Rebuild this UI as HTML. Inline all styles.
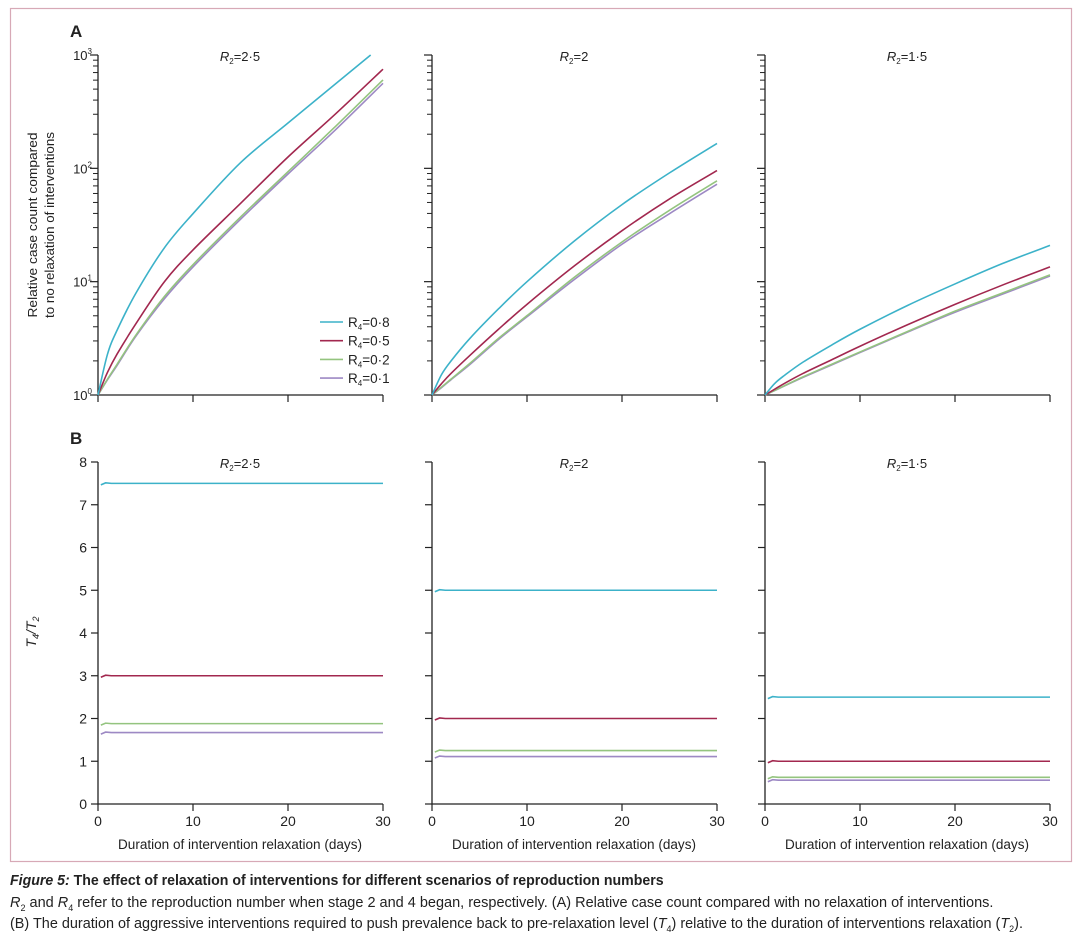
<!DOCTYPE html>
<html><head><meta charset="utf-8"><style>
body{margin:0;background:#fff;width:1080px;height:939px;overflow:hidden;font-family:"Liberation Sans",sans-serif}
svg text{font-family:"Liberation Sans",sans-serif;fill:#222}
.cap{position:absolute;left:10px;font-size:14.5px;color:#222;font-family:"Liberation Sans",sans-serif;white-space:nowrap;transform-origin:0 0}
</style></head><body>
<svg id="fig" width="1080" height="939" style="position:absolute;left:0;top:0">
<rect x="10.5" y="8.5" width="1061" height="853" fill="none" stroke="#d7a9b6" stroke-width="1.2"/>
<text x="70" y="37" font-size="17" font-weight="bold">A</text>
<text x="70" y="444" font-size="17" font-weight="bold">B</text>
<text transform="translate(37,225) rotate(-90)" text-anchor="middle" font-size="13" textLength="185" lengthAdjust="spacingAndGlyphs">Relative case count compared</text>
<text transform="translate(54,225) rotate(-90)" text-anchor="middle" font-size="13" textLength="186" lengthAdjust="spacingAndGlyphs">to no relaxation of interventions</text>
<text transform="translate(36,632) rotate(-90)" text-anchor="middle" font-size="14" font-style="italic">T<tspan font-size="9" dy="3">4</tspan><tspan dy="-3">/T</tspan><tspan font-size="9" dy="3">2</tspan></text>
<g id="plots"></g>
</svg>
<div class="cap" style="top:873px;font-weight:bold;transform:scaleX(0.975)"><i>Figure 5:</i> The effect of relaxation of interventions for different scenarios of reproduction numbers</div>
<div class="cap" style="top:895px"><i>R</i><sub style="font-size:9px">2</sub> and <i>R</i><sub style="font-size:9px">4</sub> refer to the reproduction number when stage 2 and 4 began, respectively. (A) Relative case count compared with no relaxation of interventions.</div>
<div class="cap" style="top:916px;transform:scaleX(0.995)">(B) The duration of aggressive interventions required to push prevalence back to pre-relaxation level (<i>T</i><sub style="font-size:9px">4</sub>) relative to the duration of interventions relaxation (<i>T</i><sub style="font-size:9px">2</sub>).</div>
<script>
const panelTitles = ["2·5", "2", "1·5"];
const seriesNames = ["0·8", "0·5", "0·2", "0·1"];
const seriesColors = ["#3cb2c9", "#a2284f", "#94c47f", "#9d89c4"];
const daysA = [0, 1, 2, 4, 7, 10, 15, 20, 25, 30];
// log10 relative case counts, panel A, [panel][series][day]
const logA = [
 [[0,0.36,0.57,0.9,1.3,1.6,2.05,2.4,2.745,3.09],
  [0,0.2,0.36,0.63,1.0,1.28,1.69,2.1,2.48,2.875],
  [0,0.14,0.27,0.53,0.87,1.15,1.57,1.97,2.37,2.78],
  [0,0.135,0.26,0.52,0.85,1.13,1.55,1.95,2.34,2.75]],
 [[0,0.18,0.3,0.5,0.76,1.0,1.36,1.68,1.96,2.22],
  [0,0.1,0.19,0.35,0.58,0.8,1.14,1.45,1.73,1.98],
  [0,0.07,0.14,0.28,0.5,0.7,1.04,1.35,1.63,1.89],
  [0,0.065,0.135,0.27,0.49,0.69,1.02,1.33,1.6,1.86]],
 [[0,0.1,0.17,0.29,0.44,0.58,0.79,0.98,1.16,1.32],
  [0,0.05,0.1,0.19,0.31,0.43,0.62,0.8,0.97,1.13],
  [0,0.04,0.08,0.16,0.27,0.38,0.56,0.74,0.9,1.06],
  [0,0.038,0.078,0.155,0.265,0.375,0.555,0.73,0.89,1.05]]
];
const cyanEndDay = [28.7, 30, 30];
const ratioB = [[7.5,3.0,1.88,1.67],[5.0,2.0,1.25,1.11],[2.5,1.0,0.625,0.556]];
const xTicks = [0,10,20,30];
const yTicksB = [0,1,2,3,4,5,6,7,8];
const yTicksA = [0,1,2,3];

const NS="http://www.w3.org/2000/svg";
const root=document.getElementById('plots');
function mk(tag,attrs,parent){const e=document.createElementNS(NS,tag);for(const k in attrs)e.setAttribute(k,attrs[k]);(parent||root).appendChild(e);return e;}
const px0=[98,432,765], pw=285;
const xS=(p,d)=>px0[p]+d/30*pw;
const yA=v=>395-v/3*340;
const yB=v=>804-v/8*342;

for(let p=0;p<3;p++){
  const g=mk('g',{});
  
  
  const x0=px0[p];
  let ax=mk('path',{d:`M${x0},55V395H${x0+pw}`,stroke:'#222','stroke-width':1.3,fill:'none'},g);
  
  for(let d=0;d<3;d++){for(let m=2;m<=9;m++){const y=yA(d+Math.log10(m));
    const t=mk('line',{x1:x0-5,x2:x0,y1:y,y2:y,stroke:'#222','stroke-width':1},g);
    }}
  yTicksA.forEach(v=>{const y=yA(v);
    const t=mk('line',{x1:x0-8,x2:x0,y1:y,y2:y,stroke:'#222','stroke-width':1.2},g);
    
    if(p===0){const tx=mk('text',{x:x0-6,y:y+5,'text-anchor':'end','font-size':13},g);
      
      tx.innerHTML='10<tspan font-size="8" dy="-6">'+v+'</tspan>';}});
  xTicks.forEach(v=>{const x=xS(p,v);
    const t=mk('line',{x1:x,x2:x,y1:395,y2:402,stroke:'#222','stroke-width':1.2},g);
    });
  let tt=mk('text',{x:x0+142,y:61,'text-anchor':'middle','font-size':13},g);
  
  tt.innerHTML='<tspan font-style="italic">R</tspan><tspan font-size="8" dy="3">2</tspan><tspan dy="-3">='+panelTitles[p]+'</tspan>';
  for(let s=3;s>=0;s--){
    let pts=[];const vals=logA[p][s];
    for(let i=0;i<daysA.length;i++){
      let d=daysA[i],v=vals[i];
      if(s===0&&d>cyanEndDay[p]){const dp=daysA[i-1],vp=vals[i-1];const f=(cyanEndDay[p]-dp)/(d-dp);d=cyanEndDay[p];v=vp+(v-vp)*f;}
      pts.push([xS(p,d),yA(v)]);
    }
    let dstr='M'+pts[0][0]+','+pts[0][1];
    for(let i=0;i<pts.length-1;i++){const a=pts[i-1]||pts[i],b=pts[i],c=pts[i+1],e=pts[i+2]||c;
      dstr+=` C${b[0]+(c[0]-a[0])/6},${b[1]+(c[1]-a[1])/6} ${c[0]-(e[0]-b[0])/6},${c[1]-(e[1]-b[1])/6} ${c[0]},${c[1]}`;}
    const l=mk('path',{d:dstr,stroke:seriesColors[s],'stroke-width':1.6,fill:'none'},g);
    
  }
  const gb=mk('g',{});
  
  
  ax=mk('path',{d:`M${x0},462V804H${x0+pw}`,stroke:'#222','stroke-width':1.3,fill:'none'},gb);
  
  yTicksB.forEach(v=>{const y=yB(v);
    const t=mk('line',{x1:x0-7,x2:x0,y1:y,y2:y,stroke:'#222','stroke-width':1.2},gb);
    
    if(p===0){const tx=mk('text',{x:x0-11,y:y+5,'text-anchor':'end','font-size':14},gb);
      tx.textContent=v;}});
  xTicks.forEach(v=>{const x=xS(p,v);
    const t=mk('line',{x1:x,x2:x,y1:804,y2:811,stroke:'#222','stroke-width':1.2},gb);
    
    const tx=mk('text',{x:x,y:826,'text-anchor':'middle','font-size':14},gb);
    tx.textContent=v;});
  const xt=mk('text',{x:x0+142,y:849,'text-anchor':'middle','font-size':13.5,textLength:244,lengthAdjust:'spacingAndGlyphs'},gb);
  
  xt.textContent='Duration of intervention relaxation (days)';
  tt=mk('text',{x:x0+142,y:468,'text-anchor':'middle','font-size':13},gb);
  
  tt.innerHTML='<tspan font-style="italic">R</tspan><tspan font-size="8" dy="3">2</tspan><tspan dy="-3">='+panelTitles[p]+'</tspan>';
  for(let s=3;s>=0;s--){const y=yB(ratioB[p][s]);
    const l=mk('path',{d:`M${xS(p,0.3)},${y+1.5} L${xS(p,0.8)},${y-0.5} L${xS(p,1.4)},${y} L${xS(p,30)},${y}`,stroke:seriesColors[s],'stroke-width':1.6,fill:'none'},gb);
    }
}
const lg=mk('g',{});


seriesNames.forEach((n,i)=>{const y=322+i*18.7;
  const l=mk('line',{x1:320,x2:343,y1:y,y2:y,stroke:seriesColors[i],'stroke-width':1.6},lg);
  
  const t=mk('text',{x:348,y:y+5,'font-size':13.5},lg);
  
  t.innerHTML='R<tspan font-size="8" dy="3">4</tspan><tspan dy="-3">=</tspan>'+n;});
</script>
</body></html>
